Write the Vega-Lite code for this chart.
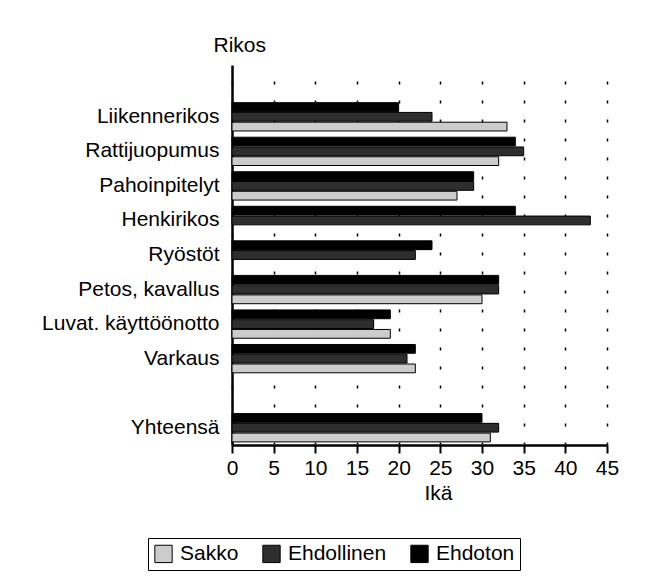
{
  "$schema": "https://vega.github.io/schema/vega-lite/v6.json",
  "autosize": "none",
  "width": 375,
  "height": 380,
  "padding": {"left": 232, "top": 65, "right": 57, "bottom": 139},
  "background": "white",
  "config": {
    "font": "Liberation Sans",
    "view": {"stroke": null}
  },
  "data": {
    "values": [
      {"Rikos": "Liikennerikos", "Rangaistus": "Sakko", "Ika": 33},
      {"Rikos": "Liikennerikos", "Rangaistus": "Ehdollinen", "Ika": 24},
      {"Rikos": "Liikennerikos", "Rangaistus": "Ehdoton", "Ika": 20},
      {"Rikos": "Rattijuopumus", "Rangaistus": "Sakko", "Ika": 32},
      {"Rikos": "Rattijuopumus", "Rangaistus": "Ehdollinen", "Ika": 35},
      {"Rikos": "Rattijuopumus", "Rangaistus": "Ehdoton", "Ika": 34},
      {"Rikos": "Pahoinpitelyt", "Rangaistus": "Sakko", "Ika": 27},
      {"Rikos": "Pahoinpitelyt", "Rangaistus": "Ehdollinen", "Ika": 29},
      {"Rikos": "Pahoinpitelyt", "Rangaistus": "Ehdoton", "Ika": 29},
      {"Rikos": "Henkirikos", "Rangaistus": "Ehdollinen", "Ika": 43},
      {"Rikos": "Henkirikos", "Rangaistus": "Ehdoton", "Ika": 34},
      {"Rikos": "Ryöstöt", "Rangaistus": "Ehdollinen", "Ika": 22},
      {"Rikos": "Ryöstöt", "Rangaistus": "Ehdoton", "Ika": 24},
      {"Rikos": "Petos, kavallus", "Rangaistus": "Sakko", "Ika": 30},
      {"Rikos": "Petos, kavallus", "Rangaistus": "Ehdollinen", "Ika": 32},
      {"Rikos": "Petos, kavallus", "Rangaistus": "Ehdoton", "Ika": 32},
      {"Rikos": "Luvat. käyttöönotto", "Rangaistus": "Sakko", "Ika": 19},
      {"Rikos": "Luvat. käyttöönotto", "Rangaistus": "Ehdollinen", "Ika": 17},
      {"Rikos": "Luvat. käyttöönotto", "Rangaistus": "Ehdoton", "Ika": 19},
      {"Rikos": "Varkaus", "Rangaistus": "Sakko", "Ika": 22},
      {"Rikos": "Varkaus", "Rangaistus": "Ehdollinen", "Ika": 21},
      {"Rikos": "Varkaus", "Rangaistus": "Ehdoton", "Ika": 22},
      {"Rikos": "Yhteensä", "Rangaistus": "Sakko", "Ika": 31},
      {"Rikos": "Yhteensä", "Rangaistus": "Ehdollinen", "Ika": 32},
      {"Rikos": "Yhteensä", "Rangaistus": "Ehdoton", "Ika": 30}
    ]
  },
  "mark": {"type": "bar", "stroke": "black", "strokeWidth": 1},
  "encoding": {
    "y": {
      "field": "Rikos",
      "type": "nominal",
      "scale": {
        "domain": ["_a", "Liikennerikos", "Rattijuopumus", "Pahoinpitelyt", "Henkirikos", "Ryöstöt", "Petos, kavallus", "Luvat. käyttöönotto", "Varkaus", "_b", "Yhteensä"],
        "paddingInner": 0.18,
        "paddingOuter": 0.09
      },
      "axis": {
        "title": "Rikos",
        "titleAngle": 0,
        "titleAlign": "left",
        "titleBaseline": "alphabetic",
        "titleX": -19,
        "titleY": -14,
        "titleFontSize": 21,
        "titleFontWeight": "normal",
        "titleColor": "black",
        "labelExpr": "indexof(datum.value, '_') == 0 ? '' : datum.value",
        "labelFontSize": 21,
        "labelColor": "black",
        "labelPadding": 13,
        "ticks": false,
        "domainColor": "black",
        "domainWidth": 2.5
      }
    },
    "yOffset": {
      "field": "Rangaistus",
      "type": "nominal",
      "scale": {"domain": ["Ehdoton", "Ehdollinen", "Sakko"], "paddingInner": 0.1}
    },
    "x": {
      "field": "Ika",
      "type": "quantitative",
      "scale": {"domain": [0, 45], "nice": false},
      "axis": {
        "title": "Ikä",
        "values": [0, 5, 10, 15, 20, 25, 30, 35, 40, 45],
        "titleX": 206,
        "titleY": 54,
        "titleBaseline": "alphabetic",
        "titleFontSize": 21,
        "titleFontWeight": "normal",
        "titleColor": "black",
        "labelFontSize": 21,
        "labelColor": "black",
        "labelPadding": 4,
        "labelFlush": false,
        "tickSize": 8,
        "tickColor": "black",
        "tickWidth": 2,
        "domainColor": "black",
        "domainWidth": 2.5,
        "grid": true,
        "gridColor": "black",
        "gridDash": [3, 16],
        "gridWidth": 1.5
      }
    },
    "color": {
      "field": "Rangaistus",
      "type": "nominal",
      "scale": {"domain": ["Sakko", "Ehdollinen", "Ehdoton"], "range": ["#cccccc", "#2e2e2e", "#000000"]},
      "legend": {
        "title": null,
        "orient": "none",
        "direction": "horizontal",
        "legendX": -84,
        "legendY": 473,
        "labelFontSize": 21,
        "labelColor": "black",
        "symbolType": "square",
        "symbolSize": 300,
        "symbolStrokeColor": "black",
        "symbolStrokeWidth": 1,
        "symbolOpacity": 1,
        "labelOffset": 6,
        "columnPadding": 21,
        "padding": 5,
        "strokeColor": "black"
      }
    }
  }
}
